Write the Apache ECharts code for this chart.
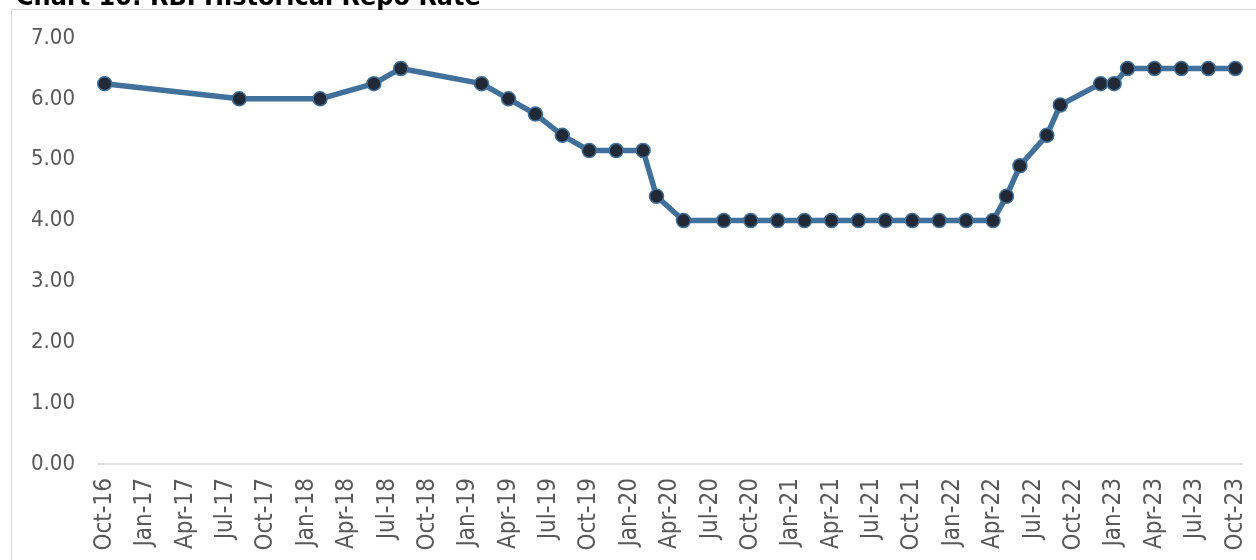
<!doctype html>
<html>
    <head>
        <meta charset="utf-8">
        <style>
            html, body { margin: 0; padding: 0; background: #fff; }
            #main { width: 1256px; height: 560px; }
        </style>
    </head>
    <body>
        <div id="main"></div>
        <script src="https://cdn.jsdelivr.net/npm/echarts@6/dist/echarts.min.js"></script>
        <script>
            var chart = echarts.init(document.getElementById('main'));

            var title = 'Chart 10: RBI Historical Repo Rate';
            var monthNames = ['Jan', 'Feb', 'Mar', 'Apr', 'May', 'Jun', 'Jul', 'Aug', 'Sep', 'Oct', 'Nov', 'Dec'];
            // axis runs monthly from Oct-16 to Oct-23
            var firstMonth = [2016, 10];
            var lastMonth = [2023, 10];

            // policy dates (month) and repo rate (%)
            var rateMonths = [
                '2016-10', '2017-08', '2018-02', '2018-06', '2018-08', '2019-02', '2019-04',
                '2019-06', '2019-08', '2019-10', '2019-12', '2020-02', '2020-03', '2020-05',
                '2020-08', '2020-10', '2020-12', '2021-02', '2021-04', '2021-06', '2021-08',
                '2021-10', '2021-12', '2022-02', '2022-04', '2022-05', '2022-06', '2022-08',
                '2022-09', '2022-12', '2023-01', '2023-02', '2023-04', '2023-06', '2023-08',
                '2023-10'
            ];
            var repoRate = [
                6.25, 6.00, 6.00, 6.25, 6.50, 6.25, 6.00,
                5.75, 5.40, 5.15, 5.15, 5.15, 4.40, 4.00,
                4.00, 4.00, 4.00, 4.00, 4.00, 4.00, 4.00,
                4.00, 4.00, 4.00, 4.00, 4.40, 4.90, 5.40,
                5.90, 6.25, 6.25, 6.50, 6.50, 6.50, 6.50,
                6.50
            ];

            function monthLabel(y, m) {
                return monthNames[m - 1] + '-' + String(y).slice(2);
            }

            var categories = [];
            var y = firstMonth[0], m = firstMonth[1];
            while (y < lastMonth[0] || (y === lastMonth[0] && m <= lastMonth[1])) {
                categories.push(monthLabel(y, m));
                m++;
                if (m > 12) { m = 1; y++; }
            }

            var seriesData = rateMonths.map(function (s, i) {
                var p = s.split('-');
                return [monthLabel(+p[0], +p[1]), repoRate[i]];
            });

            var labelFont = '"DejaVu Sans Condensed", "DejaVu Sans"';

            chart.setOption({
                animation: false,
                backgroundColor: '#fff',
                graphic: [{
                    type: 'rect',
                    shape: { x: 11.5, y: 9.5, width: 1300, height: 600 },
                    style: { fill: 'none', stroke: '#d9d9d9', lineWidth: 1 },
                    silent: true
                }, {
                    type: 'text',
                    left: 16,
                    top: -13,
                    style: {
                        text: title,
                        font: 'bold 24px "DejaVu Sans"',
                        fill: '#000'
                    },
                    silent: true
                }],
                grid: {
                    left: 98,
                    right: 14,
                    top: 38,
                    height: 426,
                    containLabel: false
                },
                xAxis: {
                    type: 'category',
                    data: categories,
                    boundaryGap: true,
                    axisLine: { lineStyle: { color: '#d9d9d9', width: 1.5 } },
                    axisTick: {
                        interval: 2,
                        length: 6,
                        lineStyle: { color: '#d9d9d9', width: 1.5 }
                    },
                    axisLabel: {
                        interval: 2,
                        rotate: 90,
                        margin: 14,
                        color: '#595959',
                        fontFamily: labelFont,
                        fontSize: 24
                    },
                    splitLine: { show: false }
                },
                yAxis: {
                    type: 'value',
                    min: 0,
                    max: 7,
                    interval: 1,
                    axisLine: { show: false },
                    axisTick: { show: false },
                    splitLine: { show: false },
                    axisLabel: {
                        margin: 23,
                        color: '#595959',
                        fontFamily: labelFont,
                        fontSize: 22,
                        formatter: function (v) { return v.toFixed(2); }
                    }
                },
                series: [{
                    type: 'line',
                    data: seriesData,
                    showAllSymbol: true,
                    symbol: 'circle',
                    symbolSize: 14,
                    lineStyle: { color: '#41709a', width: 5.5 },
                    itemStyle: {
                        color: '#212936',
                        borderColor: '#41709a',
                        borderWidth: 1.5
                    },
                    silent: true
                }]
            });

            window.addEventListener('resize', function () {
                chart.resize();
            });
        </script>
    </body>
</html>
